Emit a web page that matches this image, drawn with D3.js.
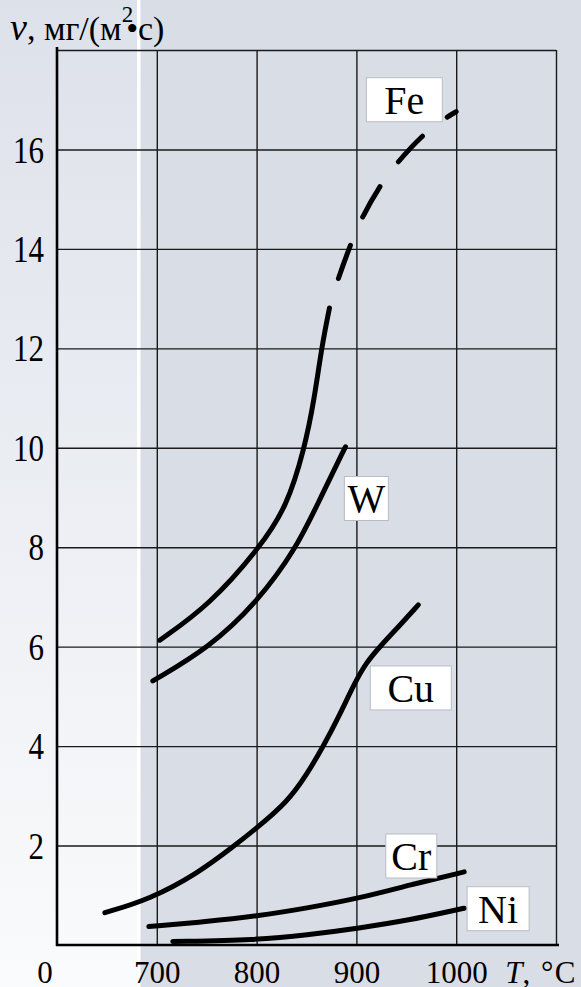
<!DOCTYPE html>
<html>
<head>
<meta charset="utf-8">
<script src="https://cdn.jsdelivr.net/npm/d3@7"></script>
<style>
  html, body { margin: 0; padding: 0; background: #fff; }
  svg { display: block; font-family: "Liberation Serif", "Times New Roman", serif; }
</style>
</head>
<body>
<div id="chart"></div>
<script>
// axis ticks: temperature T (°C) and rate v, mg/(m²·s)
const xTicks = [700, 800, 900, 1000];
const xGrid = [700, 800, 900, 1000, 1100];
const yTicks = [2, 4, 6, 8, 10, 12, 14, 16];
const yGrid = [2, 4, 6, 8, 10, 12, 14, 16, 18];

// curves, [T, v]
const feSolid = [[703, 6.13], [753, 6.84], [803, 7.99], [830, 8.8], [848, 9.98], [858, 11.0], [865, 12.0], [873, 12.81]];
const feDashed = [[873, 12.81], [880, 13.31], [894, 14.08], [904, 14.58], [924, 15.29], [940, 15.72], [968, 16.33], [989, 16.63], [1000, 16.76]];
const wData = [[696, 5.31], [753, 5.99], [800, 6.88], [840, 7.98], [863, 8.95], [889, 10.02]];
const cuData = [[648, 0.65], [693, 0.92], [741, 1.44], [778, 2.0], [800, 2.35], [831, 2.88], [850, 3.42], [867, 4.0], [883, 4.62], [899, 5.3], [910, 5.68], [923, 5.99], [944, 6.44], [962, 6.84]];
const crData = [[692, 0.37], [750, 0.47], [800, 0.58], [850, 0.74], [903, 0.94], [954, 1.21], [1008, 1.47]];
const niData = [[716, 0.07], [800, 0.10], [850, 0.20], [903, 0.34], [953, 0.50], [999, 0.70], [1008, 0.74]];

// curve labels: name, centre [T, v]
const labelNames = ["Fe", "W", "Cu", "Cr", "Ni"];
const labelPos = [[948, 17.0], [910, 8.98], [954.5, 5.17], [955, 1.79], [1042, 0.73]];

const W = 581, H = 987;
const margin = { top: 50, right: 25, bottom: 42, left: 57 };
const plotW = W - margin.left - margin.right;
const plotH = H - margin.top - margin.bottom;
const serif = "'Liberation Serif', 'Times New Roman', serif";

const svg = d3.select("#chart").append("svg")
    .attr("width", W)
    .attr("height", H);

// background panels
const defs = svg.append("defs");
const grad = defs.append("linearGradient").attr("id", "leftBg")
    .attr("x1", 0).attr("y1", 0).attr("x2", 0).attr("y2", 1);
grad.append("stop").attr("offset", "0%").attr("stop-color", "#dde1ea");
grad.append("stop").attr("offset", "100%").attr("stop-color", "#fafbfc");

svg.append("rect").attr("x", 0).attr("y", 0).attr("width", 140).attr("height", H).attr("fill", "url(#leftBg)");
svg.append("rect").attr("x", 140).attr("y", 0).attr("width", W - 140).attr("height", H).attr("fill", "#d9dde6");
svg.append("rect").attr("x", 137).attr("y", 0).attr("width", 3.5).attr("height", H).attr("fill", "#fff");

const x = d3.scaleLinear().domain([600, 1100]).range([0, plotW]);
const y = d3.scaleLinear().domain([0, 18]).range([plotH, 0]);

const g = svg.append("g").attr("transform", `translate(${margin.left},${margin.top})`);

// grid
g.append("g")
    .call(d3.axisLeft(y).tickValues(yGrid).tickSize(-plotW).tickFormat(""))
    .call(a => a.select(".domain").remove())
    .call(a => a.selectAll("line").attr("stroke", "#1a1a1a").attr("stroke-width", 1.4));

g.append("g")
    .attr("transform", `translate(0,${plotH})`)
    .call(d3.axisBottom(x).tickValues(xGrid).tickSize(plotH).tickFormat(""))
    .call(a => a.select(".domain").remove())
    .call(a => a.selectAll("line").attr("stroke", "#1a1a1a").attr("stroke-width", 1.4).attr("y2", -plotH));

// main axes
g.append("line").attr("x1", 0).attr("x2", 0).attr("y1", -3).attr("y2", plotH + 1)
    .attr("stroke", "#000").attr("stroke-width", 2.6);
g.append("line").attr("x1", -1).attr("x2", plotW + 3).attr("y1", plotH).attr("y2", plotH)
    .attr("stroke", "#000").attr("stroke-width", 2.6);

// tick labels
g.append("g")
    .call(d3.axisLeft(y).tickValues(yTicks).tickSize(0).tickPadding(13))
    .call(a => a.select(".domain").remove())
    .call(a => a.selectAll("text")
        .style("font-family", serif).style("font-size", "31px").attr("fill", "#000")
        .attr("dy", "0.34em").attr("transform", "scale(1,1.2)"));

g.append("g")
    .attr("transform", `translate(0,${plotH})`)
    .call(d3.axisBottom(x).tickValues(xTicks).tickSize(0).tickFormat(d3.format("d")))
    .call(a => a.select(".domain").remove())
    .call(a => a.selectAll("text")
        .style("font-family", serif).style("font-size", "31px").attr("fill", "#000")
        .attr("y", 38).attr("dy", null));

g.append("text")
    .attr("x", x(600) - 12).attr("y", plotH + 38)
    .attr("text-anchor", "middle").style("font-size", "31px").text("0");

const tLabel = g.append("text")
    .attr("x", x(1000) + 49).attr("y", plotH + 38)
    .style("font-size", "31px");
tLabel.append("tspan").attr("font-style", "italic").text("T");
tLabel.append("tspan").attr("letter-spacing", 1.5).text(", °C");

// y axis title
const yTitle = svg.append("text").attr("x", 10).attr("y", 40).style("font-size", "34px");
yTitle.append("tspan").attr("font-style", "italic").style("font-size", "38px").text("v");
yTitle.append("tspan").text(", мг/(м");
yTitle.append("tspan").style("font-size", "23px").attr("dy", -18).text("2");
yTitle.append("tspan").attr("dy", 18).attr("dx", -7).text("•с)");

// curves
const line = d3.line()
    .x(d => x(d[0]))
    .y(d => y(d[1]))
    .curve(d3.curveBasis);

const curves = g.append("g")
    .attr("fill", "none")
    .attr("stroke", "#000")
    .attr("stroke-width", 5)
    .attr("stroke-linecap", "round");

[feSolid, wData, cuData, crData, niData].forEach(d => {
    curves.append("path").attr("d", line(d));
});
curves.append("path").attr("d", line(feDashed))
    .attr("stroke-dasharray", "35 31")
    .attr("stroke-dashoffset", 35);

// curve labels in white boxes
const boxW = { Fe: 76, W: 44, Cu: 81, Cr: 51, Ni: 62 };
const boxH = 44;
const labels = g.append("g");
labelNames.forEach((name, i) => {
    const cx = x(labelPos[i][0]), cy = y(labelPos[i][1]);
    labels.append("rect")
        .attr("x", cx - boxW[name] / 2).attr("y", cy - boxH / 2)
        .attr("width", boxW[name]).attr("height", boxH)
        .attr("fill", "#fff").attr("stroke", "#b8bcc4").attr("stroke-width", 1);
    labels.append("text")
        .attr("x", cx).attr("y", cy + 14)
        .attr("text-anchor", "middle").style("font-size", "40px").attr("fill", "#000")
        .text(name);
});
</script>
</body>
</html>
